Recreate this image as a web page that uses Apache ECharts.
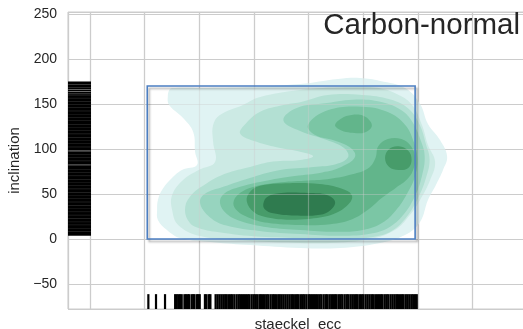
<!DOCTYPE html>
<html>
<head>
<meta charset="utf-8">
<script src="https://cdn.jsdelivr.net/npm/echarts@6/dist/echarts.min.js"></script>
<style>
  html, body { margin: 0; padding: 0; background: #ffffff; }
  #chart { width: 523px; height: 329px; }
</style>
</head>
<body>
<div id="chart"></div>
<script>
// Axis extents (eccentricity, inclination in degrees)
const xRange = [-0.28, 1.403];
const yRange = [-77.8, 252.2];

// Selection box: [ecc0, incl0, ecc1, incl1]
const selBox = [0.01, 0, 0.99, 170];

// Filled density contours, outermost level first: [ecc, inclination] rings
const kdeL1 = [[0.093,166.7],[0.112,167.8],[0.203,167.8],[0.386,168.9],[0.569,172.2],[0.708,177.8],[0.789,178.9],[0.862,175.6],[0.953,167.8],[1.008,150],[1.037,127.8],[1.081,110],[1.107,92],[1.092,76.7],[1.066,60],[1.037,43.3],[1.008,18.9],[0.953,4.4],[0.862,-4.4],[0.715,-10],[0.569,-10],[0.386,-6.7],[0.25,-3.5],[0.130,1.1],[0.082,10],[0.049,21.1],[0.046,32.2],[0.049,43.3],[0.064,54.4],[0.093,65.6],[0.137,76.7],[0.192,82.2],[0.185,96.7],[0.178,118.9],[0.141,134.4],[0.090,148.9],[0.085,158]];
const kdeL2 = [[0.423,157.8],[0.569,165.6],[0.734,168.9],[0.85,168],[0.93,160],[0.979,148.9],[1.015,126.7],[1.037,104.4],[1.063,85.6],[1.045,65.6],[1.008,43.3],[0.971,26.7],[0.916,10],[0.825,0],[0.679,-4.4],[0.569,-4.4],[0.386,-2.2],[0.203,3.3],[0.123,15.6],[0.101,32.2],[0.101,48.9],[0.141,65.6],[0.2,77],[0.258,85.6],[0.251,107.8],[0.251,126.7],[0.276,137.8],[0.360,148.9]];
const kdeL3 = [[0.35,117],[0.37,128],[0.423,141.4],[0.508,148.9],[0.569,152],[0.671,160],[0.796,160],[0.9,155],[0.965,145],[1.005,128],[1.03,105],[1.043,88],[1.03,68],[1.0,45],[0.96,25],[0.91,10],[0.85,3],[0.75,0],[0.57,1],[0.40,3],[0.26,8],[0.2,12],[0.166,17.8],[0.148,32],[0.166,47],[0.228,62],[0.30,73],[0.386,80],[0.47,86],[0.569,87.8],[0.617,92],[0.569,97],[0.496,101],[0.41,108]];
const kdeL4 = [[0.508,132],[0.557,145.5],[0.667,151],[0.776,155],[0.87,152],[0.94,143],[0.98,130],[1.01,110],[1.025,92],[1.015,70],[0.99,48],[0.95,28],[0.9,14],[0.83,6],[0.72,3.5],[0.57,5.5],[0.42,9],[0.30,15],[0.24,24],[0.203,40],[0.22,50],[0.288,58],[0.398,69],[0.496,76.7],[0.618,80],[0.70,83],[0.745,91],[0.73,101],[0.667,110],[0.569,120]];
const kdeL5 = [[0.598,126.7],[0.67,143],[0.796,147],[0.89,141],[0.953,127],[0.985,108],[0.998,90],[0.99,70],[0.96,50],[0.92,32],[0.87,18],[0.8,10],[0.7,8],[0.57,10],[0.45,13],[0.35,20],[0.30,28],[0.276,40],[0.29,50],[0.35,58],[0.45,65],[0.55,70],[0.65,74],[0.72,80],[0.77,91],[0.755,101],[0.70,109],[0.624,115.5]];
const kdeL6a = [[0.325,40],[0.345,50],[0.40,58],[0.50,63],[0.60,65],[0.68,67],[0.76,72],[0.82,79],[0.845,90],[0.855,103],[0.89,111],[0.94,111],[0.975,103],[0.99,90],[0.982,76],[0.96,66],[0.92,57],[0.87,46],[0.82,33],[0.76,22],[0.68,16.5],[0.57,15.5],[0.45,18],[0.38,24],[0.34,31]];
const kdeL6b = [[0.697,126.7],[0.72,134],[0.758,137.8],[0.80,137],[0.825,131],[0.831,124.8],[0.81,119],[0.781,117.5],[0.745,118.5],[0.715,121.5]];
const kdeL7a = [[0.374,42],[0.385,52],[0.42,59],[0.532,62],[0.64,61],[0.72,56],[0.758,49],[0.75,40],[0.70,29],[0.62,23],[0.532,21.5],[0.45,24],[0.40,30]];
const kdeL7b = [[0.88,90],[0.895,100],[0.93,103],[0.965,98],[0.977,88],[0.965,79],[0.93,76.7],[0.895,80]];
const kdeL8 = [[0.435,39.6],[0.45,47],[0.50,51],[0.60,51],[0.667,49],[0.697,41.5],[0.68,32],[0.642,27],[0.55,26],[0.471,28.5],[0.44,33]];

const levelColors = ['#e0f3f3','#cceae4','#b3e0d3','#97d4bf','#7bc6a5','#62b58b','#479c6a','#2f7b4f'];

// Marginal rug values
const rugEcc = [0.014,0.042,0.075,
  0.112,0.118,0.124,0.130,0.136,0.146,0.152,0.158,0.163,0.172,0.178,0.183,0.192,0.197,0.202,
  0.221,0.227,0.236,0.241,
  0.260,0.267,0.274,0.281,0.288,0.295,0.301,0.309,0.316,0.322,0.329,0.337,0.344,0.350,0.357,0.364,0.371,0.378,0.384,0.392,0.399,0.405,0.412,0.420,0.426,0.433,0.440,0.447,0.453,0.461,0.468,0.474,0.481,0.489,0.495,0.502,0.509,0.516,0.523,0.530,0.537,0.543,0.551,0.558,0.564,0.572,0.579,0.585,0.592,0.600,0.606,0.613,0.620,0.627,0.634,0.641,0.647,0.655,0.662,0.668,0.676,0.683,0.690,0.697,0.703,0.711,0.718,0.724,0.732,0.739,0.745,0.753,0.760,0.767,0.774,0.780,0.788,0.795,0.801,0.809,0.816,0.823,0.830,0.836,0.844,0.851,0.858,0.865,0.871,0.879,0.886,0.892,0.900,0.907,0.914,0.921,0.927,0.935,0.942,0.948,0.956,0.963,0.970,0.977,0.983,0.990,0.996];
const rugIncl = [174.0,173.0,170.9,169.0,167.1,164.8,162.3,160.0,
  158.2,156.7,155.0,153.5,151.8,150.3,148.6,147.1,145.4,143.9,142.2,140.6,139.0,137.5,135.8,134.2,132.7,131.0,129.4,127.9,126.2,124.6,123.1,121.4,119.8,118.3,116.6,115.0,113.5,111.8,110.2,108.7,107.0,105.4,103.9,102.2,100.6,99.1,96.5,94.6,93.0,91.4,89.8,88.3,86.6,85.0,83.5,81.0,79.5,77.9,76.3,74.7,73.1,71.6,69.9,68.3,66.8,65.1,63.5,62.0,60.3,58.7,57.2,55.5,53.9,52.4,50.7,49.1,47.6,45.9,44.3,42.8,41.1,39.5,38.0,36.3,34.7,33.2,31.5,29.9,28.4,26.7,25.1,23.6,21.9,20.3,18.8,17.1,15.5,14.0,12.3,10.7,9.2,7.5,5.9,4.6];

const textColor = '#262626';
const font = 'Liberation Sans, Arial, sans-serif';

function contour(ring, color) {
  return {
    type: 'custom', xAxisIndex: 0, yAxisIndex: 0, z: 2, silent: true, clip: false,
    data: ring,
    renderItem: function (params, api) {
      if (params.dataIndex !== 0) return null;
      const pts = ring.map(function (p) { return api.coord(p); });
      return { type: 'polygon', shape: { points: pts, smooth: 0.4 }, style: { fill: color } };
    }
  };
}

const contourSeries = [
  contour(kdeL1, levelColors[0]),
  contour(kdeL2, levelColors[1]),
  contour(kdeL3, levelColors[2]),
  contour(kdeL4, levelColors[3]),
  contour(kdeL5, levelColors[4]),
  contour(kdeL6a, levelColors[5]),
  contour(kdeL6b, levelColors[5]),
  contour(kdeL7a, levelColors[6]),
  contour(kdeL7b, levelColors[6]),
  contour(kdeL8, levelColors[7])
];

const gridBox = { left: 68, top: 12, right: -5, bottom: 20, outerBoundsMode: 'none', containLabel: false };

const chart = echarts.init(document.getElementById('chart'), null, { renderer: 'canvas' });
chart.setOption({
  animation: false,
  backgroundColor: '#ffffff',
  title: {
    text: 'Carbon-normal', right: -2, top: 6,
    textStyle: { fontSize: 29.5, fontWeight: 'normal', color: textColor, fontFamily: font }
  },
  grid: [
    Object.assign({ show: true, borderColor: '#cccccc', borderWidth: 1, backgroundColor: '#ffffff' }, gridBox),
    Object.assign({ show: false }, gridBox)
  ],
  xAxis: [
    {
      type: 'value', gridIndex: 0, min: xRange[0], max: xRange[1], minInterval: 0.2, maxInterval: 0.2,
      name: 'staeckel_ecc', nameLocation: 'middle', nameGap: 8,
      nameTextStyle: { fontSize: 15, color: textColor, fontFamily: font },
      axisLine: { show: false }, axisTick: { show: false }, axisLabel: { show: false },
      splitLine: { show: true, lineStyle: { color: '#cccccc', width: 1.2 } }
    },
    {
      type: 'value', gridIndex: 1, min: xRange[0], max: xRange[1], minInterval: 0.2, maxInterval: 0.2, z: 3,
      axisLine: { show: false }, axisTick: { show: false }, axisLabel: { show: false },
      splitLine: { show: true, lineStyle: { color: 'rgba(204,204,204,0.4)', width: 1.2 } }
    }
  ],
  yAxis: [
    {
      type: 'value', gridIndex: 0, min: yRange[0], max: yRange[1], minInterval: 50, maxInterval: 50,
      name: 'inclination', nameLocation: 'middle', nameGap: 42,
      nameTextStyle: { fontSize: 15, color: textColor, fontFamily: font },
      axisLine: { show: false }, axisTick: { show: false },
      axisLabel: {
        show: true, margin: 11, fontSize: 14, color: textColor, fontFamily: font,
        showMinLabel: false, showMaxLabel: false,
        formatter: function (v) { return String(v).replace('-', '\u2212'); }
      },
      splitLine: { show: true, lineStyle: { color: '#cccccc', width: 1.2 } }
    },
    {
      type: 'value', gridIndex: 1, min: yRange[0], max: yRange[1], minInterval: 50, maxInterval: 50, z: 3,
      axisLine: { show: false }, axisTick: { show: false }, axisLabel: { show: false },
      splitLine: { show: true, lineStyle: { color: 'rgba(204,204,204,0.4)', width: 1.2 } }
    }
  ],
  series: contourSeries.concat([
    {
      // selection rectangle with a soft drop shadow
      type: 'custom', xAxisIndex: 0, yAxisIndex: 0, z: 4, silent: true, clip: false,
      data: [selBox],
      renderItem: function (params, api) {
        const p0 = api.coord([api.value(0), api.value(1)]);
        const p1 = api.coord([api.value(2), api.value(3)]);
        return {
          type: 'rect',
          shape: { x: p0[0], y: p1[1], width: p1[0] - p0[0], height: p0[1] - p1[1] },
          style: {
            fill: 'none', stroke: '#4c7fc2', lineWidth: 1.6,
            shadowBlur: 2, shadowColor: 'rgba(0,0,0,0.3)', shadowOffsetX: 2, shadowOffsetY: 2.5
          }
        };
      }
    },
    {
      // rug of eccentricity values along the bottom edge
      type: 'custom', xAxisIndex: 0, yAxisIndex: 0, z: 5, silent: true,
      data: rugEcc.map(function (v) { return [v]; }),
      renderItem: function (params, api) {
        const cs = params.coordSys;
        const p = api.coord([api.value(0), 0]);
        const yb = cs.y + cs.height;
        return {
          type: 'line',
          shape: { x1: p[0], y1: yb, x2: p[0], y2: yb - 0.05 * cs.height },
          style: { stroke: '#000000', lineWidth: 2.2 }
        };
      }
    },
    {
      // rug of inclination values along the left edge
      type: 'custom', xAxisIndex: 0, yAxisIndex: 0, z: 5, silent: true,
      data: rugIncl.map(function (v) { return [v]; }),
      renderItem: function (params, api) {
        const cs = params.coordSys;
        const p = api.coord([0, api.value(0)]);
        return {
          type: 'line',
          shape: { x1: cs.x, y1: p[1], x2: cs.x + 0.05 * cs.width, y2: p[1] },
          style: { stroke: '#000000', lineWidth: 1.8 }
        };
      }
    }
  ])
});
</script>
</body>
</html>
